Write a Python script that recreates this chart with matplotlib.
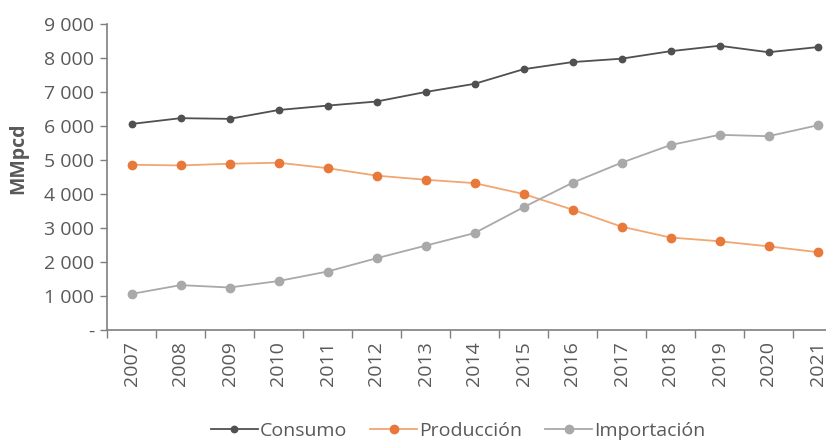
import numpy as np
import matplotlib
matplotlib.use("Agg")
import matplotlib.pyplot as plt

plt.rcParams['font.family'] = ['Open Sans', 'DejaVu Sans']

years = [str(y) for y in range(2007, 2022)]
consumo = [6060, 6230, 6210, 6470, 6600, 6720, 7000, 7240, 7670, 7880, 7980, 8200, 8360, 8170, 8320]
produccion = [4860, 4840, 4890, 4920, 4760, 4540, 4420, 4320, 4000, 3540, 3040, 2720, 2610, 2460, 2290]
importacion = [1060, 1320, 1250, 1440, 1720, 2110, 2480, 2850, 3610, 4330, 4920, 5440, 5740, 5700, 6020]
yticks = list(range(0, 9001, 1000))

text_col = '#595959'
axis_col = '#7f7f7f'

fig = plt.figure(figsize=(8.26, 4.40), dpi=100)
ax = fig.add_axes([107 / 826, 110 / 440, 735 / 826, 306 / 440])

x = np.arange(len(years))
ax.plot(x, consumo, color='#505050', lw=1.3, marker='o', ms=4.6,
        markerfacecolor='#505050', markeredgecolor='#505050', label='Consumo')
ax.plot(x, produccion, color='#F2A672', lw=1.3, marker='o', ms=6,
        markerfacecolor='#E8793A', markeredgecolor='#E8793A', label='Producción')
ax.plot(x, importacion, color='#A9A9AB', lw=1.3, marker='o', ms=6,
        markerfacecolor='#A9A9AB', markeredgecolor='#A9A9AB', label='Importación')

ax.set_xlim(-0.5, len(years) - 0.5)
ax.set_ylim(0, 9000)

# category labels centred, tick marks on the boundaries
ax.set_xticks(x)
ax.set_xticklabels(years, rotation=90, fontsize=14, color=text_col)
ax.set_xticks(np.arange(-0.5, len(years), 1), minor=True)
ax.tick_params(axis='x', which='major', length=0, pad=8)
ax.tick_params(axis='x', which='minor', length=6, color=axis_col, width=1)

ylabels = ['-' if v == 0 else f'{v:,}'.replace(',', ' ') for v in yticks]
ax.set_yticks(yticks)
ax.set_yticklabels(ylabels, fontsize=14, color=text_col)
ax.tick_params(axis='y', length=5, color=axis_col, width=1, pad=4)

for s in ['top', 'right']:
    ax.spines[s].set_visible(False)
for s in ['left', 'bottom']:
    ax.spines[s].set_color(axis_col)
    ax.spines[s].set_linewidth(1.2)

fig.text(18 / 826, 1 - 158 / 440, 'MMpcd', rotation=90, ha='center', va='center',
         fontsize=14, fontweight='bold', color=text_col)

fig.legend(loc='center', bbox_to_anchor=(458 / 826, 1 - 431 / 440), ncol=3,
           frameon=False, fontsize=14, handlelength=2.4, handletextpad=0.1,
           columnspacing=1.2, labelcolor=text_col)

fig.savefig('out.png', dpi=100)
